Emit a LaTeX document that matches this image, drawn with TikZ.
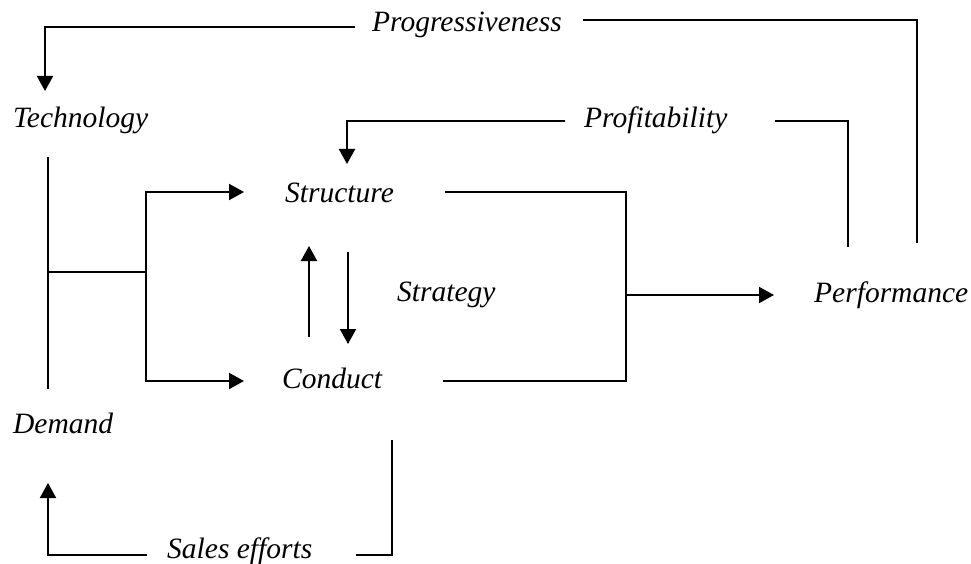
\documentclass[tikz,border=0pt]{standalone}
\usepackage{fontspec}
\setmainfont{Liberation Serif}
\usetikzlibrary{arrows.meta}
\begin{document}
\begin{tikzpicture}[x=1pt,y=-1pt,
  lbl/.style={inner sep=0pt,anchor=base west,font=\fontsize{29.5}{33}\selectfont\itshape},
  ln/.style={line width=2pt},
  arr/.style={line width=2pt,-{Triangle[length=15pt,width=16pt]}}]
\useasboundingbox (0,0) rectangle (971,564);
% labels
\node[lbl] (prog) at (372,32) {Progressiveness};
\node[lbl] (tech) at (13,128) {Technology};
\node[lbl] (prof) at (584,128) {Profitability};
\node[lbl] (struc) at (285,202) {Structure};
\node[lbl] (strat) at (397,301) {Strategy};
\node[lbl] (perf) at (814,302) {Performance};
\node[lbl] (cond) at (282,388) {Conduct};
\node[lbl] (dem) at (13,433) {Demand};
\node[lbl] (sales) at (167,558) {Sales efforts};
% coordinates
\coordinate (pL) at (355,27);
\coordinate (pLc) at (45,27);
\coordinate (techT) at (45,91);
\coordinate (pR) at (583,20);
\coordinate (pRc) at (917,20);
\coordinate (perfP) at (917,243);
\coordinate (fL) at (565,121);
\coordinate (fLc) at (347,121);
\coordinate (strucT) at (347,164);
\coordinate (fR) at (775,121);
\coordinate (fRc) at (848,121);
\coordinate (perfF) at (848,247);
\coordinate (techB) at (48,157);
\coordinate (demT) at (48,389);
\coordinate (j1) at (48,272);
\coordinate (j2) at (146,272);
\coordinate (sL) at (146,192);
\coordinate (sA) at (244,192);
\coordinate (cL) at (146,381);
\coordinate (cA) at (244,381);
\coordinate (sR) at (445,192);
\coordinate (bR1) at (626,192);
\coordinate (bR2) at (626,381);
\coordinate (cR) at (443,381);
\coordinate (mid) at (626,295);
\coordinate (perfA) at (774,295);
\coordinate (upB) at (309,337);
\coordinate (upT) at (309,246);
\coordinate (dnT) at (348,252);
\coordinate (dnB) at (348,344);
\coordinate (cB) at (392,440);
\coordinate (cBc) at (392,555);
\coordinate (seR) at (356,555);
\coordinate (seL) at (147,555);
\coordinate (seLc) at (48,555);
\coordinate (demB) at (48,483);
% connectors
\draw[arr] (pL) -- (pLc) -- (techT);
\draw[ln] (pR) -- (pRc) -- (perfP);
\draw[arr] (fL) -- (fLc) -- (strucT);
\draw[ln] (fR) -- (fRc) -- (perfF);
\draw[ln] (techB) -- (demT);
\draw[ln] (j1) -- (j2);
\draw[arr] (j2) -- (sL) -- (sA);
\draw[arr] (j2) -- (cL) -- (cA);
\draw[ln] (sR) -- (bR1) -- (bR2) -- (cR);
\draw[arr] (mid) -- (perfA);
\draw[arr] (upB) -- (upT);
\draw[arr] (dnT) -- (dnB);
\draw[ln] (cB) -- (cBc) -- (seR);
\draw[arr] (seL) -- (seLc) -- (demB);
\end{tikzpicture}
\end{document}
